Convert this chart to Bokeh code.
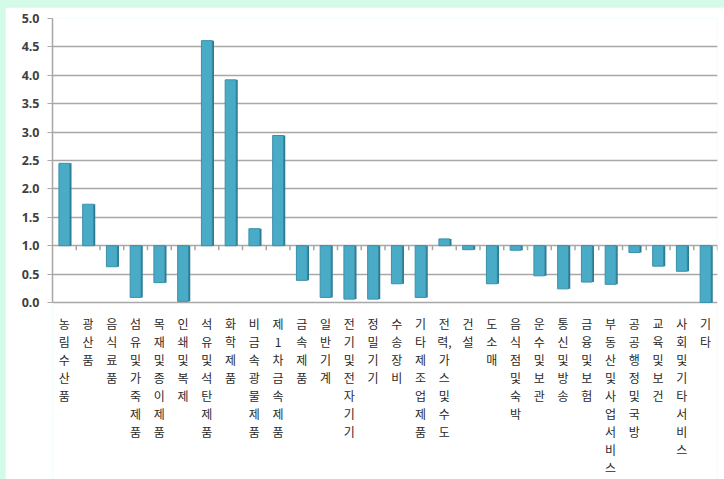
from bokeh.plotting import figure
from bokeh.models import Range1d, FixedTicker, ColumnDataSource
from bokeh.core.properties import value
from bokeh.transform import dodge
from bokeh.layouts import column
from bokeh.embed import file_html
from bokeh.resources import INLINE

categories = ["농림수산품", "광산품", "음식료품", "섬유및가죽제품", "목재및종이제품", "인쇄및복제",
              "석유및석탄제품", "화학제품", "비금속광물제품", "제1차금속제품", "금속제품", "일반기계",
              "전기및전자기기", "정밀기기", "수송장비", "기타제조업제품", "전력,가스및수도", "건설",
              "도소매", "음식점및숙박", "운수및보관", "통신및방송", "금융및보험", "부동산및사업서비스",
              "공공행정및국방", "교육및보건", "사회및기타서비스", "기타"]
values = [2.45, 1.73, 0.63, 0.09, 0.35, 0.02,
          4.61, 3.92, 1.30, 2.94, 0.39, 0.09,
          0.06, 0.06, 0.33, 0.09, 1.12, 0.93,
          0.33, 0.92, 0.47, 0.24, 0.36, 0.32,
          0.88, 0.64, 0.55, 0.0]
y_ticks = [0.0, 0.5, 1.0, 1.5, 2.0, 2.5, 3.0, 3.5, 4.0, 4.5, 5.0]
baseline = 1.0


def stack(label):
    out = []
    for ch in label:
        if ch == ",":
            out[-1] += ","
        else:
            out.append(ch)
    return "\n".join(out)


src = ColumnDataSource(dict(
    cat=categories,
    top=[max(v, baseline) for v in values],
    bottom=[min(v, baseline) for v in values],
    label=[stack(c) for c in categories],
    zero=[y_ticks[0]] * len(categories),
    base=[baseline] * len(categories),
    tick_end=[baseline - 0.08] * len(categories),
))

# y range extends below 0 so that the stacked category labels live inside the frame
p = figure(x_range=categories, y_range=Range1d(-3.116, 5), width=719, height=472,
           output_backend="svg", toolbar_location=None,
           min_border_left=47, min_border_right=7, min_border_top=11, min_border_bottom=0,
           background_fill_color="white", border_fill_color="white", outline_line_color=None,
           margin=(7, 0, 0, 5))

p.ygrid.ticker = FixedTicker(ticks=y_ticks)
p.ygrid.grid_line_color = "#a8a8a8"
p.ygrid.grid_line_width = 1.6
p.xgrid.grid_line_color = None

# bars: front face and darker side face
p.vbar(x="cat", top="top", bottom="bottom", width=0.46, source=src,
       fill_color="#4aabc7", line_color="#3990ab", line_width=1)
p.vbar(x=dodge("cat", 0.265, range=p.x_range), top="top", bottom="bottom", width=0.07,
       source=src, fill_color="#2b7d95", line_color=None)

# category axis at 1.0 with small ticks between categories
p.segment(x0=dodge("cat", 0.5, range=p.x_range), x1=dodge("cat", 0.5, range=p.x_range),
          y0="base", y1="tick_end", source=src, line_color="#a6a6a6", line_width=1.5)

# stacked (vertical) category labels
p.text(x="cat", y="zero", text="label", source=src, y_offset=12,
       text_font=value("Noto Sans CJK KR"), text_font_size="12px",
       text_color="#2a2a2a", text_align="center", text_baseline="top",
       text_line_height=1.06)

p.yaxis.ticker = FixedTicker(ticks=y_ticks)
p.yaxis.bounds = (y_ticks[0], y_ticks[-1])
p.yaxis.major_label_overrides = {t: f"{t:.1f}" for t in y_ticks}
p.yaxis.axis_line_color = "#a8a8a8"
p.yaxis.axis_line_width = 1.5
p.yaxis.major_tick_line_color = "#a8a8a8"
p.yaxis.major_tick_out = 5
p.yaxis.major_tick_in = 0
p.yaxis.minor_tick_line_color = None
p.yaxis.major_label_standoff = 8
p.yaxis.major_label_text_font = "Noto Sans"
p.yaxis.major_label_text_font_style = "bold"
p.yaxis.major_label_text_font_size = "12.5px"
p.yaxis.major_label_text_color = "#404040"

p.xaxis.visible = False

layout = column(p, styles={"background-color": "#d4fbe7"}, width=724, height=479)

open("out.html", "w").write(file_html(layout, INLINE))
